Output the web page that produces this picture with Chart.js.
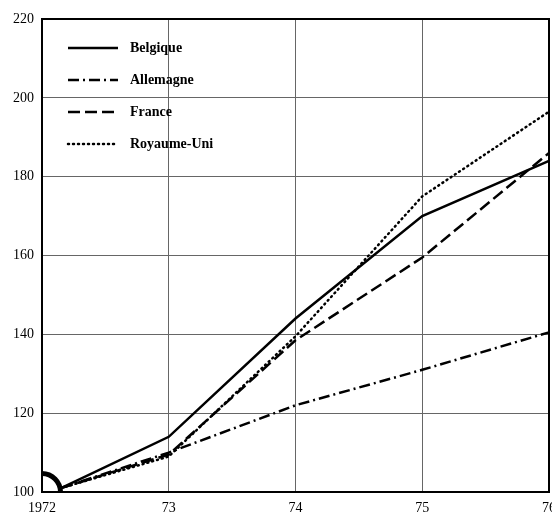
<!DOCTYPE html>
<html>
<head>
<meta charset="utf-8">
<script src="https://cdn.jsdelivr.net/npm/chart.js@4"></script>
<style>
  html, body { margin: 0; padding: 0; background: #fff; }
  #wrap { width: 552px; height: 518px; }
</style>
</head>
<body>
<div id="wrap"><canvas id="indexChart" width="552" height="518"></canvas></div>
<script>
// Years (first point starts just after the axis break)
const years = [1972.15, 1973, 1974, 1975, 1976];
const xTicks = [1972, 1973, 1974, 1975, 1976];
const xTickLabels = ['1972', '73', '74', '75', '76'];
const yTicks = [100, 120, 140, 160, 180, 200, 220];

const seriesNames = ['Belgique', 'Allemagne', 'France', 'Royaume-Uni'];
const belgique = [101, 114, 144, 170, 184];
const allemagne = [101, 110, 122, 131, 140.5];
const france = [101, 109.5, 138.5, 159.5, 186];
const royaumeUni = [101, 109, 139.5, 175, 196.5];

const dashes = [[], [11, 4, 2, 4], [12, 5], [1, 4]];

function toPoints(vals) {
  return vals.map((v, i) => ({ x: years[i], y: v }));
}

const serif = '"Liberation Serif", "DejaVu Serif", serif';

// legend drawn inside the plot, top-left
const insideLegend = {
  id: 'insideLegend',
  afterDatasetsDraw(chart) {
    const ctx = chart.ctx;
    const a = chart.chartArea;
    ctx.save();
    chart.data.datasets.forEach((ds, i) => {
      const y = a.top + 29 + i * 32;
      ctx.beginPath();
      ctx.lineWidth = 2.5;
      ctx.strokeStyle = '#000';
      ctx.lineCap = i === 3 ? 'round' : 'butt';
      ctx.setLineDash(dashes[i]);
      ctx.moveTo(a.left + 26, y);
      ctx.lineTo(a.left + 76, y);
      ctx.stroke();
      ctx.setLineDash([]);
      ctx.fillStyle = '#000';
      ctx.font = 'bold 14px ' + serif;
      ctx.textBaseline = 'middle';
      ctx.fillText(ds.label, a.left + 88, y);
    });
    ctx.restore();
  }
};

// frame around plot + axis-break arc at origin
const frame = {
  id: 'frame',
  afterDraw(chart) {
    const ctx = chart.ctx;
    const a = chart.chartArea;
    const xs = chart.scales.x, ys = chart.scales.y;
    ctx.save();
    ctx.strokeStyle = '#000';
    ctx.lineWidth = 2;
    ctx.strokeRect(a.left, a.top, a.right - a.left, a.bottom - a.top);
    const cx = xs.getPixelForValue(1972), cy = ys.getPixelForValue(100);
    ctx.beginPath();
    ctx.lineWidth = 5;
    ctx.arc(cx, cy, 18.5, -Math.PI / 2, 0);
    ctx.stroke();
    ctx.restore();
  }
};

const lineData = [belgique, allemagne, france, royaumeUni];

new Chart(document.getElementById('indexChart'), {
  type: 'line',
  data: {
    datasets: seriesNames.map((name, i) => ({
      label: name,
      data: toPoints(lineData[i]),
      borderColor: '#000',
      borderWidth: 2.5,
      borderDash: dashes[i],
      borderCapStyle: i === 3 ? 'round' : 'butt',
      pointRadius: 0,
      tension: 0,
      fill: false,
      clip: false
    }))
  },
  options: {
    responsive: false,
    animation: false,
    layout: { padding: { top: 19, right: 3, left: 0, bottom: 0 } },
    plugins: {
      legend: { display: false },
      tooltip: { enabled: false }
    },
    scales: {
      x: {
        type: 'linear',
        min: 1972,
        max: 1976,
        afterBuildTicks: s => { s.ticks = xTicks.map(v => ({ value: v })); },
        afterFit: s => { s.height = 26; s.paddingLeft = 0; s.paddingRight = 0; },
        ticks: {
          color: '#000',
          font: { family: serif, size: 14 },
          padding: 8,
          maxRotation: 0,
          callback: v => xTickLabels[xTicks.indexOf(v)]
        },
        grid: { color: '#666', lineWidth: 1, drawTicks: false },
        border: { color: '#000', width: 2 }
      },
      y: {
        min: 100,
        max: 220,
        afterBuildTicks: s => { s.ticks = yTicks.map(v => ({ value: v })); },
        afterFit: s => { s.width = 42; s.paddingTop = 0; s.paddingBottom = 0; },
        ticks: {
          color: '#000',
          font: { family: serif, size: 14 },
          padding: 8
        },
        grid: { color: '#666', lineWidth: 1, drawTicks: false },
        border: { color: '#000', width: 2 }
      }
    }
  },
  plugins: [insideLegend, frame]
});
</script>
</body>
</html>
